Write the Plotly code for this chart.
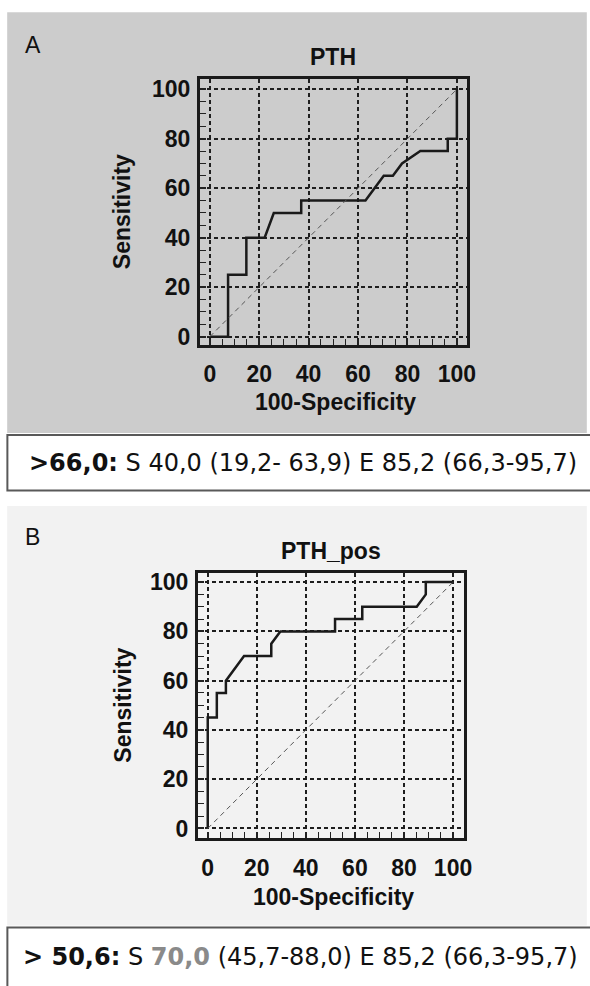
import plotly.graph_objects as go

# ---- data ----
A_fpr = [0, 7.4, 7.4, 14.8, 14.8, 22.2, 25.9, 37.0, 37.0, 63.0, 70.4, 74.1, 77.8, 85.2, 96.3, 96.3, 100, 100]
A_sens = [0, 0, 25, 25, 40, 40, 50, 50, 55, 55, 65, 65, 70, 75, 75, 80, 80, 100]

B_fpr = [0, 0, 3.7, 3.7, 7.4, 7.4, 14.8, 25.9, 25.9, 29.6, 51.9, 51.9, 63.0, 63.0, 85.2, 88.9, 88.9, 100]
B_sens = [0, 45, 45, 55, 55, 60, 70, 70, 75, 80, 80, 85, 85, 90, 90, 95, 100, 100]

diag = [0, 100]
tick_vals = [0, 20, 40, 60, 80, 100]
tick_text = ["0", "20", "40", "60", "80", "100"]

titleA = "PTH"
titleB = "PTH_pos"
x_title = "100-Specificity"
y_title = "Sensitivity"
textA = "<b>&gt;66,0:</b> S 40,0 (19,2- 63,9) E 85,2 (66,3-95,7)"
textB = ("<b>&gt; 50,6:</b> S <b><span style='color:#8a8a8a'>70,0</span></b>"
         " (45,7-88,0) E 85,2 (66,3-95,7)")

W, H = 590, 986


def px(x):
    return x / W


def py(y):
    return 1 - y / H


fig = go.Figure()

# ROC curves
fig.add_trace(go.Scatter(x=A_fpr, y=A_sens, mode="lines", xaxis="x", yaxis="y",
                         line=dict(color="#1a1a1a", width=2.5), showlegend=False))
fig.add_trace(go.Scatter(x=diag, y=diag, mode="lines", xaxis="x", yaxis="y",
                         line=dict(color="#555555", width=1, dash="5px,4px"), showlegend=False))
fig.add_trace(go.Scatter(x=B_fpr, y=B_sens, mode="lines", xaxis="x2", yaxis="y2",
                         line=dict(color="#1a1a1a", width=2.5), showlegend=False))
fig.add_trace(go.Scatter(x=diag, y=diag, mode="lines", xaxis="x2", yaxis="y2",
                         line=dict(color="#555555", width=1, dash="5px,4px"), showlegend=False))

tickfont = dict(family="Liberation Sans, Arial, sans-serif", size=23, color="#111111", weight="bold")


def axis(domain, rng, anchor, standoff):
    return dict(
        domain=domain, range=rng, anchor=anchor,
        tickvals=tick_vals, ticktext=tick_text,
        ticks="inside", ticklen=6, tickwidth=1.5, tickcolor="#222222",
        minor=dict(dtick=5, tick0=0, ticks="inside", ticklen=6, tickwidth=1.2,
                   tickcolor="#222222", showgrid=False),
        showgrid=True, gridcolor="#1e1e1e", gridwidth=1.6, griddash="4px,3px",
        showline=True, mirror=True, linecolor="#1a1a1a", linewidth=3,
        zeroline=False, tickfont=tickfont, ticklabelstandoff=standoff,
        fixedrange=True,
    )


fig.update_layout(
    width=W, height=H,
    margin=dict(l=0, r=0, t=0, b=0),
    paper_bgcolor="white",
    plot_bgcolor="rgba(0,0,0,0)",
    xaxis=axis([px(203), px(474)], [-4, 104], "y", 7),
    yaxis=axis([py(344), py(76)], [-3.3, 104], "x", 2),
    xaxis2=axis([px(201), px(471)], [-4, 104.4], "y2", 7),
    yaxis2=axis([py(842), py(574)], [-4, 103.8], "x2", 2),
)

shapes = [
    # panel A background
    dict(type="rect", xref="paper", yref="paper", x0=px(7.3), x1=1.01, y0=py(433), y1=py(8.3),
         fillcolor="#cccccc", line=dict(width=0), layer="below"),
    # box A
    dict(type="rect", xref="paper", yref="paper", x0=px(7.5), x1=1.02, y0=py(491), y1=py(435),
         fillcolor="white", line=dict(color="#595959", width=2), layer="below"),
    # panel B background
    dict(type="rect", xref="paper", yref="paper", x0=px(7.3), x1=1.01, y0=py(930), y1=py(506.7),
         fillcolor="#f2f2f2", line=dict(width=0), layer="below"),
    # box B
    dict(type="rect", xref="paper", yref="paper", x0=px(7.5), x1=1.02, y0=py(995), y1=py(932),
         fillcolor="white", line=dict(color="#595959", width=2), layer="below"),
]
fig.update_layout(shapes=shapes)

bold = dict(family="Liberation Sans, Arial, sans-serif", size=23, color="#111111", weight="bold")
reg = dict(family="Liberation Sans, Arial, sans-serif", size=23, color="#111111")
boxfont = dict(family="DejaVu Sans, sans-serif", size=24, color="#111111")

ann = [
    dict(text="A", x=px(23), y=py(41.5), xanchor="left", yanchor="middle", font=reg),
    dict(text=titleA, x=px(338), y=py(53), xanchor="center", yanchor="middle", font=bold),
    dict(text=x_title, x=px(341), y=py(401.7), xanchor="center", yanchor="middle", font=bold),
    dict(text=y_title, x=px(124), y=py(210), xanchor="center", yanchor="middle", font=bold, textangle=-90),
    dict(text=textA, x=px(27), y=py(463.5), xanchor="left", yanchor="middle", font=boxfont),

    dict(text="B", x=px(23), y=py(538.3), xanchor="left", yanchor="middle", font=reg),
    dict(text=titleB, x=px(336), y=py(551.7), xanchor="center", yanchor="middle", font=bold),
    dict(text=x_title, x=px(339), y=py(901.7), xanchor="center", yanchor="middle", font=bold),
    dict(text=y_title, x=px(124), y=py(708), xanchor="center", yanchor="middle", font=bold, textangle=-90),
    dict(text=textB, x=px(21), y=py(961.7), xanchor="left", yanchor="middle", font=boxfont),
]
for a in ann:
    a.update(xref="paper", yref="paper", showarrow=False)
fig.update_layout(annotations=ann)

fig.write_html("out.html")
